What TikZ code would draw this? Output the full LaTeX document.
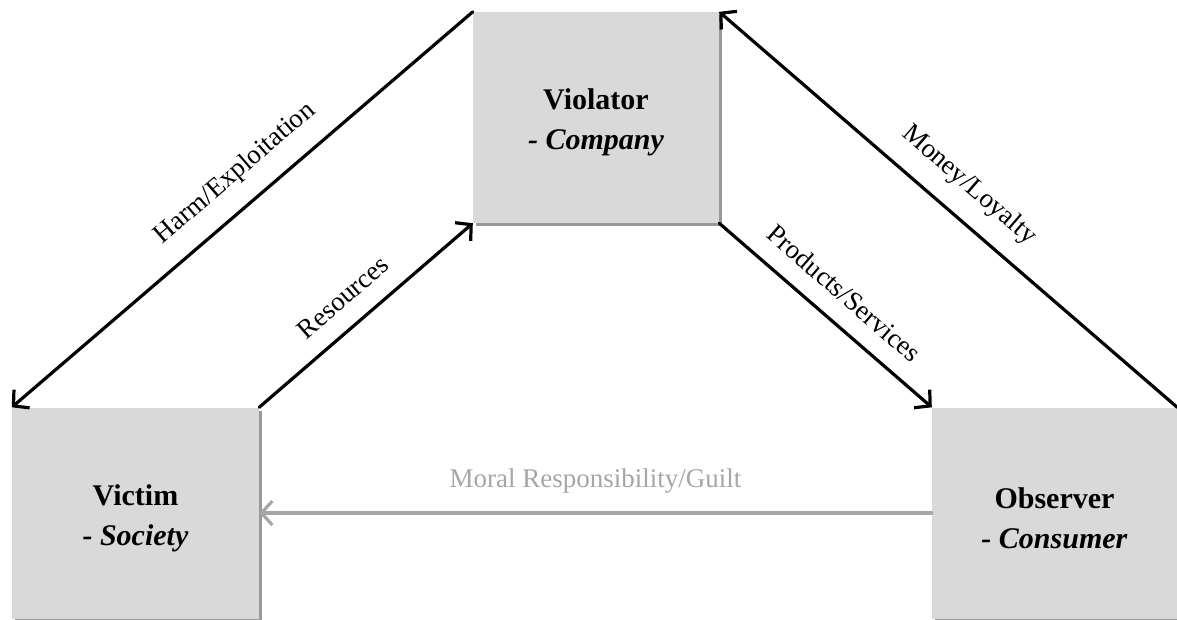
\documentclass[tikz,border=0pt]{standalone}
\usepackage{fontspec}
\setmainfont{Liberation Serif}
\usetikzlibrary{arrows.meta,shadows}
\begin{document}
\begin{tikzpicture}[x=1pt,y=-1pt,line join=round,line cap=round,>={Straight Barb[length=11pt,width=24pt,line width=3.2pt]}]
	%%%%%%%%% Khung va mui ten
	\tikzset{Vai-tro/.style={fill=black!15,minimum width=246pt,minimum height=211pt,inner sep=0pt,align=center,
			font=\fontsize{30}{40}\selectfont\bfseries,
			general shadow={fill=black!40,shadow xshift=3pt,shadow yshift=-3pt}},
		Luong/.style={line width=3.2pt,->},
		Nhan/.style={midway,sloped,above=18pt,inner sep=0pt,font=\fontsize{27}{32}\selectfont}}
	\useasboundingbox(0,0)rectangle(1177,619);
	%%%%%%%%% Ba vai tro
	\node[Vai-tro](viol)at(596,117.5){\rule{0pt}{31pt}Violator\\\textit{- Company}};
	\node[Vai-tro,minimum width=247pt](vict)at(135.5,513){\rule{0pt}{31pt}Victim\\\textit{- Society}};
	\node[Vai-tro,minimum width=245pt](obs)at(1054.5,513){\rule{0pt}{31pt}Observer\\\textit{- Consumer}};
	%%%%%%%%% Dong chay
	\draw[Luong](viol.north west)--(vict.north west)node[Nhan,pos=0.47]{Harm/Exploitation};
	\draw[Luong](vict.north east)--(viol.south west)node[Nhan,pos=0.48]{Resources};
	\draw[Luong](viol.south east)--(obs.north west)node[Nhan]{Products/Services};
	\draw[Luong](obs.north east)--(viol.north east)node[Nhan]{Money/Loyalty};
	\draw[Luong,black!35](obs.west)--(vict.east)node[Nhan,text=black!35]{Moral Responsibility/Guilt};
\end{tikzpicture}
\end{document}
